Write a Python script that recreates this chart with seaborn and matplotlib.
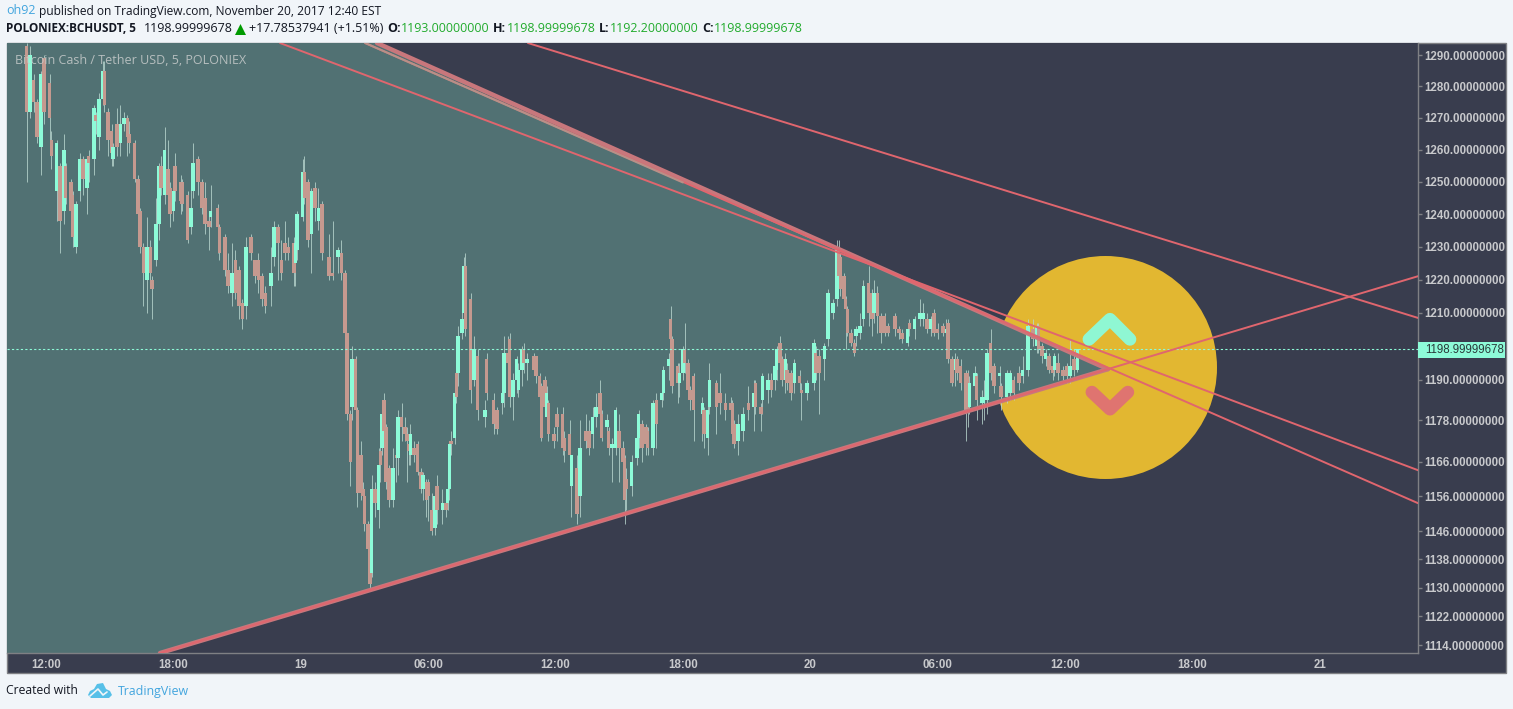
import numpy as np
import matplotlib
matplotlib.use("Agg")
import matplotlib.pyplot as plt
import seaborn as sns
from matplotlib.patches import Polygon, Rectangle

# bar number counted in 5 minute bars from 18 Nov 12:00
bar_no = [
    -11,-9,-7,-5,-3,-1,2,3,6,8, 10,11,14,15,17,19,21,23,24,27,
    28,30,32,33,35,37,38,40,42,44, 46,47,50,52,53,55,57,59,60,62,
    64,65,67,69,70,72,73,76,77,80, 82,83,86,88,90,92,93,97,98,101,
    103,105,107,109,111,113,116,118,120,122, 124,127,129,131,133,135,137,140,141,142,
    145,146,148,150,152,154,156,160,162,165, 167,169,170,172,173,175,176,178,179,180,
    182,183,184,186,188,189,190,191,192,194, 196,198,199,201,203,204,205,206,208,210,
    212,213,215,216,218,220,221,224,226,227, 228,229,231,232,233,235,236,237,240,242,
    244,248,249,253,255,258,259,261,262,264, 266,267,269,270,272,276,277,279,280,282,
    283,284,287,289,292,293,296,297,300,302, 305,307,309,311,313,314,317,318,320,322,
    324,326,327,328,331,334,335,337,339,340, 343,345,348,349,352,353,354,357,358,360,
    361,363,364,366,371,372,374,375,379,381, 384,387,388,389,391,394,397,400,401,404,
    405,408,410,412,413,415,416,418,419,421, 423,426,427,430,434,435,437,440,442,445,
    447,448,449,451,452,453,455,457,458,460, 462,465,467,468,470,472,474,476,480,482,
    484,487,488,491,494,496,498,500,502,504, 507,509,510,512,514,515,517,520,521,522,
    525,526,529,530,532,534,536,539,540,543, 545,547,550,552,555,558,560,561,563,565,
    567,569,570,572,575,577,579,581,583,
]
opens = [
    1293,1272,1282,1275,1261,1289,1281,1263,1247,1255, 1241,1255,1250,1246,1230,1247,1257,1248,1258,1257,
    1271,1264,1276,1285,1272,1266,1257,1268,1262,1268, 1270,1265,1262,1251,1241,1230,1220,1230,1220,1226,
    1237,1255,1246,1254,1248,1241,1255,1250,1250,1246, 1236,1247,1257,1250,1245,1238,1239,1242,1236,1233,
    1223,1216,1226,1223,1213,1212,1233,1226,1226,1221, 1216,1218,1227,1236,1226,1231,1230,1231,1225,1229,
    1239,1253,1250,1234,1248,1238,1243,1227,1222,1227, 1228,1222,1204,1180,1182,1196,1181,1168,1158,1156,
    1148,1141,1134,1158,1152,1169,1170,1184,1176,1164, 1155,1168,1167,1179,1176,1174,1171,1168,1170,1171,
    1163,1158,1160,1160,1152,1147,1159,1152,1154,1154, 1158,1172,1173,1192,1192,1204,1210,1224,1214,1190,
    1197,1179,1196,1184,1181,1183,1186,1198,1202,1185, 1190,1187,1193,1199,1195,1197,1197,1191,1188,1190,
    1179,1183,1174,1180,1180,1173,1174,1159,1164,1156, 1175,1175,1174,1179,1186,1180,1176,1175,1170,1170,
    1175,1170,1167,1161,1159,1167,1173,1177,1176,1175, 1170,1184,1184,1186,1194,1208,1202,1194,1189,1192,
    1199,1195,1187,1191,1180,1181,1173,1182,1189,1186, 1183,1183,1183,1177,1172,1175,1183,1182,1189,1182,
    1184,1187,1190,1190,1193,1201,1196,1190,1193,1192, 1189,1191,1187,1186,1189,1198,1197,1196,1202,1210,
    1214,1229,1227,1221,1214,1211,1204,1201,1203,1204, 1208,1219,1216,1210,1216,1209,1209,1206,1209,1205,
    1204,1201,1207,1205,1208,1208,1208,1205,1210,1205, 1206,1204,1207,1196,1193,1196,1194,1192,1192,1182,
    1188,1191,1183,1183,1184,1201,1194,1191,1188,1185, 1186,1190,1192,1191,1193,1205,1200,1206,1200,1196,
    1197,1194,1193,1195,1193,1194,1191,1196,1193,
]
closes = [
    1272,1290,1275,1264,1284,1272,1270,1258,1262,1238, 1260,1245,1241,1233,1243,1257,1251,1257,1256,1273,
    1269,1276,1285,1274,1263,1259,1261,1261,1268,1270, 1264,1262,1251,1240,1230,1222,1230,1222,1217,1237,
    1255,1248,1260,1246,1240,1247,1247,1244,1243,1232, 1242,1256,1250,1242,1237,1236,1241,1236,1228,1223,
    1218,1222,1216,1212,1208,1230,1228,1221,1220,1214, 1212,1222,1236,1231,1222,1228,1228,1222,1231,1240,
    1253,1245,1232,1247,1242,1242,1228,1221,1221,1229, 1222,1204,1180,1166,1196,1181,1157,1157,1156,1148,
    1141,1131,1158,1154,1165,1165,1180,1175,1160,1155, 1164,1167,1179,1176,1174,1172,1169,1174,1168,1163,
    1158,1162,1155,1156,1146,1156,1152,1154,1152,1158, 1171,1171,1186,1185,1203,1208,1224,1205,1187,1199,
    1181,1181,1186,1177,1175.5,1186,1198,1195,1185,1190, 1196,1193,1199,1195,1196,1193,1191,1185,1173,1182,
    1186,1174,1172,1176,1170,1169,1168,1168,1151,1170, 1172,1170,1179,1182,1180,1173,1178,1170,1171,1181,
    1170,1166,1155,1158,1166,1173,1180,1170,1171,1170, 1183,1177,1186,1193,1196,1202,1188,1189,1192,1199,
    1195,1187,1184,1181,1183,1174,1181,1190,1182,1183, 1181,1181,1174,1171,1177,1180,1181,1186,1182,1180,
    1191,1190,1187,1194,1199,1195,1190,1196,1189,1186, 1195,1189,1186,1189,1201,1192,1192,1200,1216,1213,
    1229,1221,1217,1214,1211,1204,1201,1198,1205,1206, 1218,1210,1208,1216,1209,1204,1204,1204,1205,1204,
    1202,1205,1205,1208,1210,1210,1205,1208,1204,1204, 1204,1205,1196,1189,1196,1192,1189,1181,1181,1189,
    1192,1184,1185,1185,1198,1192,1188,1192,1185,1192, 1192,1186,1189,1193,1206,1202,1206,1199,1197,1198,
    1193,1192,1197,1192,1191,1191,1194,1193,1199,
]
highs = [
    1294,1293,1284,1276,1285,1290,1284,1266,1263,1256, 1265,1256,1251,1247,1244,1259,1258,1258,1260,1274,
    1272,1278,1288,1288,1273,1268,1262,1273,1274,1272, 1271,1269,1263,1252,1242,1231,1239,1232,1221,1245,
    1256,1258,1267,1263,1250,1251,1259,1252,1251,1247, 1250,1262,1258,1251,1250,1240,1249,1243,1237,1234,
    1228,1231,1229,1224,1214,1233,1234,1226,1228,1222, 1218,1230,1238,1237,1232,1238,1233,1233,1232,1241,
    1257,1258,1251,1248,1250,1248,1244,1234,1238,1230, 1232,1223,1204,1181,1200,1197,1182,1172,1160,1157,
    1149,1146,1162,1160,1170,1172,1184,1186,1177,1165, 1170,1172,1181,1183,1179,1176,1173,1177,1172,1172,
    1164,1163,1161,1161,1157,1158,1162,1158,1158,1160, 1172,1175,1188,1195,1206,1216,1227,1228,1216,1203,
    1199,1184,1198,1186,1182,1188,1203,1203,1204,1192, 1197,1195,1200,1201,1198,1198,1197,1192,1189,1191,
    1188,1184,1176,1182,1182,1175,1178,1168,1168,1178, 1180,1178,1182,1186,1190,1181,1180,1176,1173,1182,
    1180,1172,1168,1164,1168,1174,1181,1178,1177,1176, 1184,1186,1190,1194,1198,1212,1203,1195,1195,1200,
    1207,1196,1188,1192,1185,1182,1184,1195,1190,1192, 1186,1185,1184,1178,1180,1182,1188,1190,1190,1183,
    1192,1192,1192,1197,1200,1203,1197,1198,1195,1193, 1196,1193,1189,1190,1202,1200,1199,1201,1217,1214,
    1232,1232,1228,1222,1215,1212,1205,1202,1206,1210, 1220,1224,1217,1220,1218,1210,1210,1207,1210,1206,
    1205,1206,1208,1209,1214,1213,1210,1209,1211,1207, 1207,1208,1208,1197,1198,1197,1196,1193,1193,1191,
    1194,1192,1187,1190,1199,1205,1195,1194,1189,1193, 1193,1191,1194,1197,1208,1208,1207,1207,1201,1199,
    1198,1195,1198,1198,1194,1195,1202,1199,1199,
]
lows = [
    1250,1270,1272,1262,1252,1268,1262,1254,1238,1228, 1237,1243,1238,1230,1228,1244,1246,1240,1250,1252,
    1265,1260,1274,1272,1258,1255,1255,1258,1258,1266, 1258,1259,1250,1238,1228,1212,1210,1218,1208,1224,
    1232,1246,1243,1243,1236,1238,1244,1240,1241,1231, 1234,1245,1246,1240,1234,1229,1236,1228,1226,1221,
    1216,1212,1214,1208,1205,1208,1226,1219,1216,1212, 1210,1212,1224,1220,1220,1226,1226,1218,1218,1226,
    1238,1243,1230,1222,1238,1235,1226,1220,1220,1222, 1220,1203,1178,1159,1178,1175,1153,1155,1154,1146,
    1140,1130,1133,1150,1147,1160,1168,1170,1158,1153, 1153,1160,1162,1172,1172,1160,1165,1165,1166,1162,
    1157,1155,1150,1149,1145,1145,1148,1148,1150,1152, 1155,1168,1171,1183,1188,1202,1207,1203,1183,1188,
    1178,1176,1184,1174,1174,1180,1182,1192,1182,1178, 1186,1185,1188,1192,1190,1192,1189,1183,1172,1180,
    1175,1172,1170,1172,1168,1166,1166,1150,1148,1150, 1170,1168,1170,1176,1178,1172,1172,1168,1160,1168,
    1160,1164,1148,1152,1156,1165,1170,1166,1168,1168, 1168,1170,1182,1184,1190,1200,1186,1183,1185,1190,
    1192,1185,1181,1172,1172,1170,1168,1180,1174,1180, 1178,1179,1172,1170,1168,1172,1178,1175,1180,1175,
    1180,1183,1185,1187,1190,1193,1188,1186,1187,1184, 1186,1187,1178,1184,1187,1190,1180,1190,1200,1208,
    1212,1219,1215,1212,1199,1203,1200,1197,1200,1202, 1206,1206,1203,1207,1204,1201,1203,1203,1203,1202,
    1201,1200,1203,1202,1206,1206,1204,1203,1203,1202, 1203,1203,1195,1188,1188,1190,1187,1172,1176,1180,
    1186,1178,1177,1178,1180,1190,1186,1187,1181,1183, 1184,1184,1187,1189,1191,1200,1198,1198,1195,1194,
    1192,1190,1191,1190,1190,1189,1189,1191,1192.2,
]
last_price = 1198.99999678

# trend lines, hours from 18 Nov 12:00 and price
line_a_h, line_a_p = [11.02, 64.63], [1293.9, 1163.5]
line_b_h, line_b_p = [15.03, 64.63], [1293.9, 1154.0]
line_c_h, line_c_p = [22.70, 64.63], [1293.9, 1208.4]
line_d_h, line_d_p = [5.37, 64.63], [1111.8, 1221.0]
line_b_tan_h, line_b_tan_p = [15.03, 30.0], [1293.9, 1249.8]
tri_h = [-1.84, 15.59, 50.02, 5.37, -1.84]
tri_p = [1293.9, 1293.9, 1193.1, 1111.8, 1111.8]
up_h, up_p = [49.13, 50.12, 51.06], [1202.0, 1208.0, 1202.0]
down_h, down_p = [49.27, 50.12, 50.96], [1186.3, 1181.3, 1186.3]
circle_h, circle_p = [49.88], [1193.7]

y_ticks = [1290, 1280, 1270, 1260, 1250, 1240, 1230, 1220, 1210, 1190, 1178, 1166, 1156, 1146, 1138, 1130, 1122, 1114]
x_ticks = [0, 6, 12, 18, 24, 30, 36, 42, 48, 54, 60]
x_labels = ["12:00", "18:00", "19", "06:00", "12:00", "18:00", "20", "06:00", "12:00", "18:00", "21"]

W, H = 1513, 709
DARK = "#393d4e"
TEAL = "#517173"
MINT = "#8dfbd8"
SALMON = "#c5998f"
WICK = "#b9d6cf"
RED = "#e0666e"
PAGE = "#f1f5f9"
BLUE = "#42a5de"
GREEN = "#22ab2d"
GREY = "#7f8084"
LABEL = "#c8c9cc"

def fx(px):
    return px / W

def fy(py):
    return 1 - py / H

def top_text(x, y, s, color="#131722", weight="normal", size=9.0):
    fig.text(fx(x), fy(y), s, color=color, fontweight=weight, fontsize=size,
             family="Open Sans", va="center", ha="left")

sns.set_theme(style="dark")
plt.rcParams["font.family"] = ["Liberation Sans", "DejaVu Sans"]

fig = plt.figure(figsize=(W / 100, H / 100), dpi=100, facecolor=PAGE)
fig.add_artist(Rectangle((fx(6.5), fy(672.5)), 1499 / W, 630 / H, transform=fig.transFigure,
                         fc=DARK, ec=GREY, lw=1, zorder=-1))
ax = fig.add_axes([fx(7), fy(653), (1418 - 7) / W, (653 - 43) / H], facecolor=DARK)
ax.set_yscale("log")

# circle sits behind the triangle
ax.scatter(circle_h, circle_p, s=25780, color="#e2b731", linewidths=0, zorder=1)
ax.fill(tri_h, tri_p, color=TEAL, lw=0, zorder=2)

hours = np.array(bar_no) / 12
o = np.array(opens, dtype=float)
c = np.array(closes, dtype=float)
ax.vlines(hours, lows, highs, color=WICK, lw=0.7, alpha=0.8, zorder=3)
colors = [MINT if b >= a else SALMON for a, b in zip(o, c)]
ax.bar(hours, np.abs(c - o), bottom=np.minimum(o, c), width=0.17, color=colors, lw=0, zorder=4,
       antialiased=False)

ax.axhline(last_price, color=MINT, lw=0.8, ls=(0, (2, 2)), zorder=5)

# thick edges of the triangle
sns.lineplot(x=tri_h[1:3], y=tri_p[1:3], color="#c8777c", lw=3.2, sort=False, estimator=None, ax=ax, zorder=6)
sns.lineplot(x=tri_h[2:4], y=tri_p[2:4], color="#c8777c", lw=3.2, sort=False, estimator=None, ax=ax, zorder=6)
for lh, lp in [(line_a_h, line_a_p), (line_b_h, line_b_p), (line_c_h, line_c_p), (line_d_h, line_d_p)]:
    sns.lineplot(x=lh, y=lp, color=RED, lw=1.4, sort=False, estimator=None, ax=ax, zorder=7)
sns.lineplot(x=line_b_tan_h, y=line_b_tan_p, color="#b89088", lw=1.5, sort=False, estimator=None, ax=ax, zorder=7)

sns.lineplot(x=up_h, y=up_p, color="#8ff7d3", lw=9.2, sort=False, estimator=None, ax=ax, zorder=8,
             solid_capstyle="round", solid_joinstyle="round")
sns.lineplot(x=down_h, y=down_p, color="#df7470", lw=9.2, sort=False, estimator=None, ax=ax, zorder=8,
             solid_capstyle="round", solid_joinstyle="round")

ax.set_xlim(-1.84, 64.63)
ax.set_ylim(1111.8, 1293.9)
ax.set_xlabel("")
ax.set_ylabel("")
ax.yaxis.tick_right()
ax.set_yticks(y_ticks, [f"{t}.00000000" for t in y_ticks])
ax.minorticks_off()
ax.set_xticks(x_ticks, x_labels)
ax.tick_params(axis="y", length=3, width=1, color=GREY, labelcolor=LABEL, pad=1.5, labelsize=8.3)
ax.tick_params(axis="x", length=3, width=1, color=GREY, labelcolor=LABEL, pad=1, labelsize=8.3)
for t in ax.get_xticklabels() + ax.get_yticklabels():
    t.set_fontweight("bold")
ax.grid(False)
for side in ["top", "left"]:
    ax.spines[side].set_visible(False)
for side in ["right", "bottom"]:
    ax.spines[side].set_color(GREY)
    ax.spines[side].set_linewidth(1)

fig.text(fx(15), fy(60), "Bitcoin Cash / Tether USD, 5, POLONIEX", color="#c8cccc", alpha=0.85,
         fontsize=9.0, family="Open Sans", va="center", zorder=10)

# last price label
fig.add_artist(Rectangle((fx(1418), fy(358)), 87 / W, 16 / H, transform=fig.transFigure, fc=MINT, ec="none", zorder=5))
fig.text(fx(1425), fy(350), "1198.99999678", color="#2a3a3a", fontsize=8.3, va="center", ha="left", zorder=6)

# header
top_text(6, 11, "oh92", color=BLUE)
top_text(39, 11, "published on TradingView.com, November 20, 2017 12:40 EST", size=8.65)
top_text(6, 29, "POLONIEX:BCHUSDT, 5", weight="bold", size=8.5)
top_text(144, 29, "1198.99999678")
fig.add_artist(Polygon([(fx(235), fy(35)), (fx(246), fy(35)), (fx(240.5), fy(24))],
                       transform=fig.transFigure, fc="#009a00", ec="none"))
top_text(249, 29, "+17.78537941 (+1.51%)")
top_text(387, 29, "O:", weight="bold")
top_text(401, 29, "1193.00000000", color=GREEN)
top_text(493, 29, "H:", weight="bold")
top_text(507, 29, "1198.99999678", color=GREEN)
top_text(599, 29, "L:", weight="bold")
top_text(610, 29, "1192.20000000", color=GREEN)
top_text(702, 29, "C:", weight="bold")
top_text(714, 29, "1198.99999678", color=GREEN)

# footer
top_text(6, 691, "Created with", size=8.75)
top_text(118, 691, "TradingView", color=BLUE, size=8.9)
cloud = [(88, 695), (90, 691), (94, 689), (97, 684), (103, 683), (106, 689), (110, 691), (112, 695), (109, 698), (91, 698)]
fig.add_artist(Polygon([(fx(a), fy(b)) for a, b in cloud], transform=fig.transFigure, fc="#57c0e8", ec="none"))
zig = [(90, 696), (98, 689), (103, 695), (107, 692)]
fig.add_artist(plt.Line2D([fx(a) for a, b in zig], [fy(b) for a, b in zig], transform=fig.transFigure,
                          color=PAGE, lw=1.2))

fig.savefig("out.png", dpi=100, facecolor=fig.get_facecolor())
